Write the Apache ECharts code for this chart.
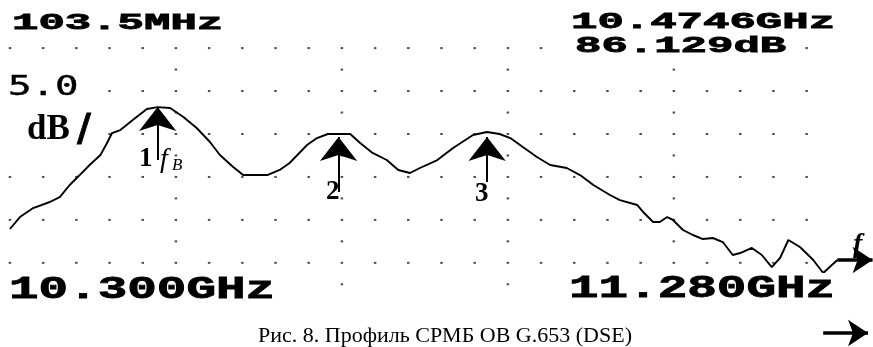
<!DOCTYPE html>
<html><head><meta charset="utf-8">
<script src="https://cdn.jsdelivr.net/npm/echarts@6/dist/echarts.min.js"></script>
<style>html,body{margin:0;padding:0;background:#fff}#c{width:873px;height:347px}</style>
</head><body><div id="c"></div>
<script>
// Trace: frequency (GHz) and level (dB)
const freqGHz = [10.300,10.312,10.328,10.348,10.360,10.372,10.384,10.396,10.409,10.417,10.423,10.433,10.448,10.465,10.478,10.493,10.509,10.525,10.541,10.553,10.569,10.581,10.610,10.625,10.637,10.658,10.670,10.683,10.710,10.722,10.737,10.754,10.768,10.782,10.794,10.815,10.834,10.858,10.875,10.890,10.903,10.918,10.935,10.951,10.971,10.987,11.003,11.023,11.035,11.056,11.063,11.075,11.083,11.092,11.099,11.111,11.123,11.135,11.147,11.159,11.171,11.180,11.194,11.206,11.218,11.228,11.238,11.252,11.268,11.280,11.297];
const levelDB = [71.94,73.33,74.38,75.08,75.66,77.06,78.22,79.39,80.55,81.95,83.11,83.46,84.63,85.91,86.13,86.03,84.98,83.70,82.07,80.55,79.16,78.22,78.22,78.81,79.62,81.72,82.53,83.00,83.00,81.95,80.79,79.97,78.81,78.46,79.04,79.97,81.37,82.88,83.23,83.00,82.53,81.48,80.32,79.39,79.04,78.22,77.06,75.90,75.31,74.73,73.92,72.75,72.75,73.33,72.99,71.82,71.24,70.77,70.89,70.42,68.91,69.14,69.73,68.91,67.51,68.56,70.66,69.84,68.33,66.81,68.33];

// Graticule (dotted grid) ticks
const gridFreqs = [10.30,10.34,10.38,10.42,10.46,10.50,10.54,10.58,10.62,10.66,10.70,10.74,10.78,10.82,10.86,10.90,10.94,10.98,11.02,11.06,11.10,11.14,11.18,11.22,11.26];
const gridLevels = [93,88,83,78,73,68];
const centerFreqs = [10.50,10.70,10.90,11.10];
const centerLevels = [90.5,85.5,80.5,75.5,70.5,65.5];

// Markers (arrows): frequency, arrow base level, arrow tip level
const markerFreqs = [10.478,10.696,10.875];
const markerBase = [79.97,76.25,77.41];
const markerTip = [86.14,82.65,82.65];
const markerLabels = ['1','2','3'];

// Texts
const rbwText = '103.5MHz';
const markerFreqText = '10.4746GHz';
const markerLevelText = '86.129dB';
const scaleText = '5.0';
const scaleUnit = 'dB';
const startText = '10.300GHz';
const stopText = '11.280GHz';
const captionText = 'Рис. 8. Профиль СРМБ ОВ G.653 (DSE)';

const dots = [];
gridFreqs.forEach(f => gridLevels.forEach(l => dots.push([f, l])));
centerFreqs.forEach(f => centerLevels.forEach(l => dots.push([f, l])));

const traceData = freqGHz.map((f, i) => [f, levelDB[i]]);

const markerLines = markerFreqs.map((f, i) => [
  {coord: [f, markerBase[i]], symbol: 'none'},
  {coord: [f, markerTip[i]], symbol: 'arrow'}
]);

const lastF = freqGHz[freqGHz.length - 1], lastL = levelDB[levelDB.length - 1];
const axisArrows = [
  [{coord: [lastF, lastL], symbol: 'none'}, {coord: [11.3395, lastL], symbol: 'arrow'}],
  [{coord: [11.280, 59.83], symbol: 'none'}, {coord: [11.334, 59.83], symbol: 'arrow'}]
];

function txt(text, x, y, family, size, opts) {
  opts = opts || {};
  return {
    type: 'text', x: x, y: y, z: 100, silent: true,
    scaleX: opts.sx || 1, scaleY: opts.sy || 1,
    style: {
      text: text, x: 0, y: 0,
      fontFamily: family, fontSize: size,
      fontWeight: opts.weight || 'normal', fontStyle: opts.style || 'normal',
      fill: '#000', align: 'left', verticalAlign: 'middle',
      stroke: opts.lw ? '#000' : null, lineWidth: opts.lw || 0,
      backgroundColor: opts.bg ? '#fff' : null,
      padding: opts.pad || 0
    }
  };
}

const chart = echarts.init(document.getElementById('c'), null, {renderer: 'canvas'});
chart.setOption({
  animation: false,
  backgroundColor: '#fff',
  grid: {left: 0, right: 0, top: 0, bottom: 0, containLabel: false},
  xAxis: {type: 'value', min: 10.288, max: 11.34, show: false},
  yAxis: {type: 'value', min: 58.2, max: 98.6, show: false},
  series: [
    {
      type: 'scatter', data: dots, symbol: 'rect', symbolSize: [2.5, 2],
      itemStyle: {color: '#222'}, silent: true, z: 1,
      markLine: {
        silent: true, animation: false, symbolSize: [20, 20],
        label: {show: false}, emphasis: {disabled: true},
        lineStyle: {color: '#000', width: 3.5, type: 'solid'},
        data: axisArrows
      }
    },
    {
      type: 'line', data: traceData, showSymbol: false, clip: false,
      lineStyle: {color: '#000', width: 1.9}, z: 3, silent: true,
      markLine: {
        silent: true, animation: false, symbolSize: [28, 24],
        label: {show: false}, emphasis: {disabled: true},
        lineStyle: {color: '#000', width: 2, type: 'solid'},
        data: markerLines
      }
    }
  ],
  graphic: [
    txt(rbwText, 12, 23.5, 'Liberation Mono', 22, {weight: 'bold', sx: 2.0, lw: 0.8}),
    txt(markerFreqText, 571, 22.5, 'Liberation Mono', 22, {weight: 'bold', sx: 2.0, lw: 0.8}),
    txt(markerLevelText, 571, 46.5, 'Liberation Mono', 22, {weight: 'bold', sx: 2.0, lw: 0.8, bg: true, pad: [0, 2, 0, 2]}),
    txt(scaleText, 5, 88, 'DejaVu Sans Mono', 27, {sx: 1.45, lw: 0.4, bg: true, pad: [0, 2, 0, 2]}),
    txt(scaleUnit, 5, 130, 'Liberation Serif', 35, {weight: 'bold', bg: true, pad: [0, 8, 0, 22]}),
    txt('/', 77, 130, 'DejaVu Sans', 38, {weight: 'bold', lw: 0.8}),
    txt(startText, 9, 290, 'Liberation Mono', 32, {weight: 'bold', sx: 1.54, lw: 0.8, bg: true}),
    txt(stopText, 569, 289, 'Liberation Mono', 32, {weight: 'bold', sx: 1.54, lw: 0.8, bg: true}),
    txt(markerLabels[0], 139, 159, 'Liberation Serif', 27, {weight: 'bold'}),
    txt('f', 160, 160, 'Liberation Serif', 28, {style: 'italic'}),
    txt('B', 172, 166, 'Liberation Serif', 17, {style: 'italic'}),
    txt(markerLabels[1], 326, 192, 'Liberation Serif', 27, {weight: 'bold'}),
    txt(markerLabels[2], 475, 194, 'Liberation Serif', 27, {weight: 'bold'}),
    txt('f', 853, 245, 'Liberation Serif', 28, {weight: 'bold', style: 'italic'}),
    txt(captionText, 258, 336, 'Liberation Serif', 22)
  ]
});
</script></body></html>
